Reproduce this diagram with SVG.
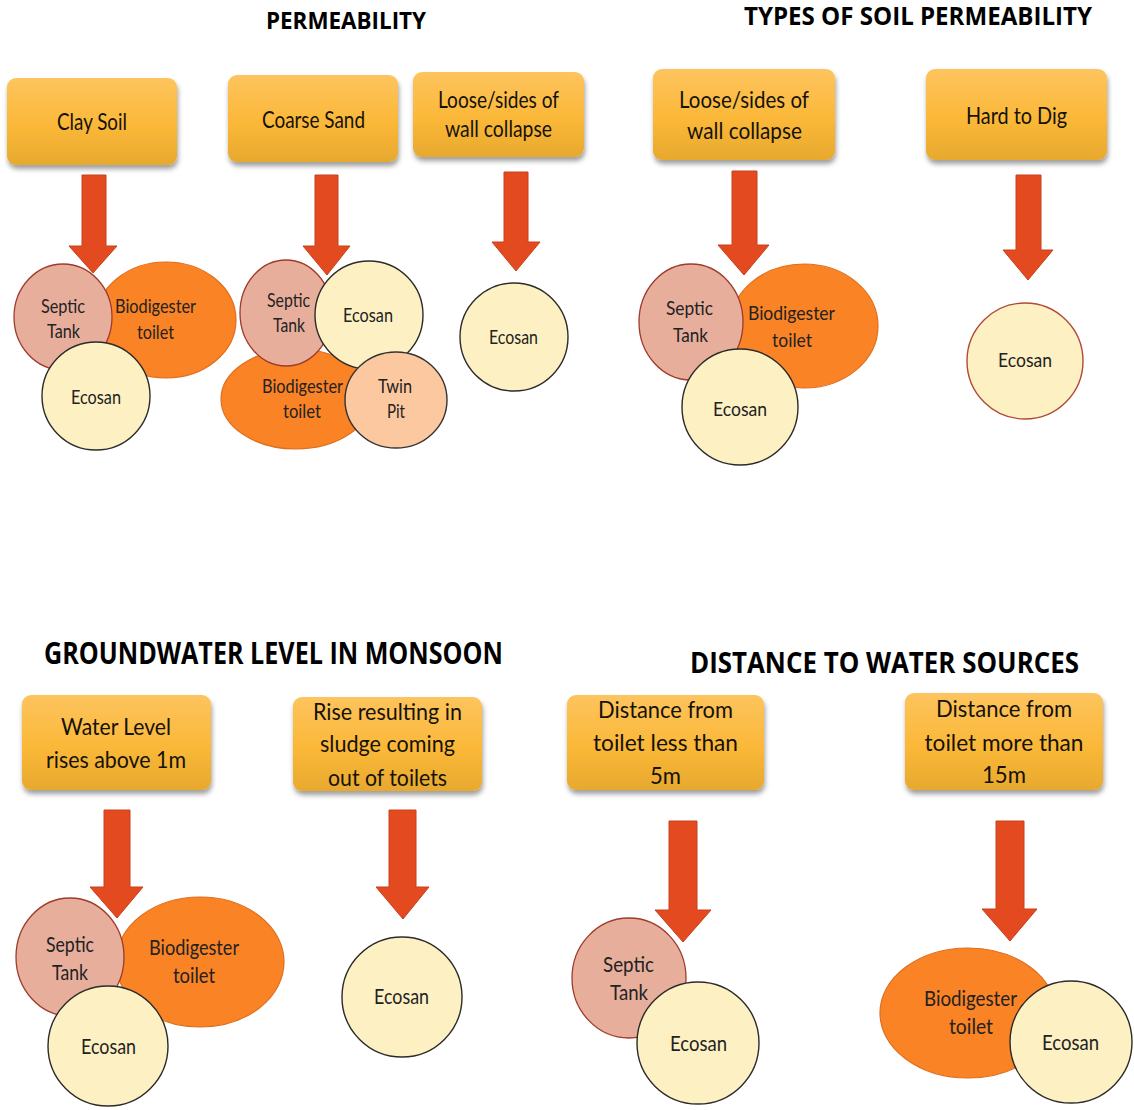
<svg xmlns="http://www.w3.org/2000/svg" width="1134" height="1110" viewBox="0 0 1134 1110">
<defs>
<linearGradient id="boxg" x1="0" y1="0" x2="0" y2="1">
<stop offset="0" stop-color="#fdc45e"/>
<stop offset="0.55" stop-color="#fbb838"/>
<stop offset="1" stop-color="#e7a92e"/>
</linearGradient>
<filter id="sh" x="-10%" y="-10%" width="125%" height="135%">
<feDropShadow dx="1" dy="4" stdDeviation="2.5" flood-color="#000" flood-opacity="0.38"/>
</filter>
</defs>
<style>
.title{font-family:"Open Sans","Liberation Sans",sans-serif;font-weight:bold;fill:#000}
.box{fill:url(#boxg);filter:url(#sh)}
.bt{font-family:Lato,"Liberation Sans",sans-serif;font-size:24px;fill:#15120a;text-anchor:middle}
.st{font-family:Lato,"Liberation Sans",sans-serif;font-size:20px;fill:#222;text-anchor:middle}
.st2{font-family:Lato,"Liberation Sans",sans-serif;font-size:22px;fill:#222;text-anchor:middle}
.septic{fill:#e8ae9c;stroke:#9e3b2c;stroke-width:1.3}
.bio{fill:#fa8325;stroke:#df6e1e;stroke-width:1.2}
.eco{fill:#fdf0c3;stroke:#2b2b2b;stroke-width:1.4}
.eco2{fill:#fdf0c3;stroke:#b04a35;stroke-width:1.4}
.twin{fill:#fcc8a0;stroke:#333;stroke-width:1.4}
.arrow{fill:#e44a20;stroke:#c8401c;stroke-width:1}
</style>
<rect width="1134" height="1110" fill="#fff"/>

<g id="titles">
<text class="title" x="266" y="29" font-size="24" textLength="160" lengthAdjust="spacingAndGlyphs">PERMEABILITY</text>
<text class="title" x="744" y="25" font-size="25" textLength="348" lengthAdjust="spacingAndGlyphs">TYPES OF SOIL PERMEABILITY</text>
<text class="title" x="44" y="664" font-size="30" textLength="459" lengthAdjust="spacingAndGlyphs">GROUNDWATER LEVEL IN MONSOON</text>
<text class="title" x="690" y="673" font-size="28" textLength="389" lengthAdjust="spacingAndGlyphs">DISTANCE TO WATER SOURCES</text>
</g>

<g id="box-clay"><rect class="box" x="7" y="78" width="170" height="87" rx="9"/>
<text class="bt" x="92" y="130" textLength="70" lengthAdjust="spacingAndGlyphs">Clay Soil</text></g>
<g id="box-coarse"><rect class="box" x="228" y="75" width="170" height="87" rx="9"/>
<text class="bt" x="313.5" y="128" textLength="103" lengthAdjust="spacingAndGlyphs">Coarse Sand</text></g>
<g id="box-loose1"><rect class="box" x="413" y="72" width="171" height="85" rx="9"/>
<text class="bt" x="498.5" y="108" textLength="121" lengthAdjust="spacingAndGlyphs">Loose/sides of</text>
<text class="bt" x="498.5" y="137" textLength="107" lengthAdjust="spacingAndGlyphs">wall collapse</text></g>
<g id="box-loose2"><rect class="box" x="653" y="69" width="182" height="91" rx="9"/>
<text class="bt" x="744" y="108" textLength="130" lengthAdjust="spacingAndGlyphs">Loose/sides of</text>
<text class="bt" x="744.5" y="139" textLength="115" lengthAdjust="spacingAndGlyphs">wall collapse</text></g>
<g id="box-hard"><rect class="box" x="926" y="69" width="181" height="91" rx="9"/>
<text class="bt" x="1016.5" y="124" textLength="101" lengthAdjust="spacingAndGlyphs">Hard to Dig</text></g>
<g id="box-water"><rect class="box" x="22" y="695" width="189" height="95" rx="9"/>
<text class="bt" x="116" y="735" textLength="110" lengthAdjust="spacingAndGlyphs">Water Level</text>
<text class="bt" x="116" y="768" textLength="140" lengthAdjust="spacingAndGlyphs">rises above 1m</text></g>
<g id="box-rise"><rect class="box" x="293" y="697" width="189" height="94" rx="9"/>
<text class="bt" x="387.5" y="720" textLength="149" lengthAdjust="spacingAndGlyphs">Rise resulting in</text>
<text class="bt" x="387.5" y="752" textLength="135" lengthAdjust="spacingAndGlyphs">sludge coming</text>
<text class="bt" x="387.5" y="786" textLength="119" lengthAdjust="spacingAndGlyphs">out of toilets</text></g>
<g id="box-dist5"><rect class="box" x="567" y="695" width="197" height="95" rx="9"/>
<text class="bt" x="665.5" y="718" textLength="135" lengthAdjust="spacingAndGlyphs">Distance from</text>
<text class="bt" x="665.5" y="751" textLength="145" lengthAdjust="spacingAndGlyphs">toilet less than</text>
<text class="bt" x="665.5" y="784" textLength="31" lengthAdjust="spacingAndGlyphs">5m</text></g>
<g id="box-dist15"><rect class="box" x="905" y="693" width="198" height="97" rx="9"/>
<text class="bt" x="1004" y="717" textLength="136" lengthAdjust="spacingAndGlyphs">Distance from</text>
<text class="bt" x="1004" y="751" textLength="159" lengthAdjust="spacingAndGlyphs">toilet more than</text>
<text class="bt" x="1004" y="783" textLength="44" lengthAdjust="spacingAndGlyphs">15m</text></g>

<g id="cluster-clay">
<ellipse class="bio" cx="166" cy="320" rx="70" ry="58"/>
<ellipse class="septic" cx="63" cy="317" rx="49" ry="53"/>
<circle class="eco" cx="96" cy="396" r="54"/>
<text class="st" x="63" y="313" textLength="44" lengthAdjust="spacingAndGlyphs">Septic</text>
<text class="st" x="63.5" y="338" textLength="33" lengthAdjust="spacingAndGlyphs">Tank</text>
<text class="st" x="155.5" y="313" textLength="81" lengthAdjust="spacingAndGlyphs">Biodigester</text>
<text class="st" x="155.5" y="339" textLength="37" lengthAdjust="spacingAndGlyphs">toilet</text>
<text class="st" x="96" y="404" textLength="50" lengthAdjust="spacingAndGlyphs">Ecosan</text>
</g>

<g id="cluster-coarse">
<ellipse class="bio" cx="296" cy="399" rx="75" ry="50"/>
<ellipse class="septic" cx="286" cy="313" rx="46" ry="53"/>
<circle class="eco" cx="369" cy="315" r="54"/>
<ellipse class="twin" cx="396" cy="400" rx="51" ry="48"/>
<text class="st" x="288.5" y="307" textLength="43" lengthAdjust="spacingAndGlyphs">Septic</text>
<text class="st" x="289" y="332" textLength="32" lengthAdjust="spacingAndGlyphs">Tank</text>
<text class="st" x="368" y="322" textLength="50" lengthAdjust="spacingAndGlyphs">Ecosan</text>
<text class="st" x="302.5" y="393" textLength="81" lengthAdjust="spacingAndGlyphs">Biodigester</text>
<text class="st" x="302" y="418" textLength="38" lengthAdjust="spacingAndGlyphs">toilet</text>
<text class="st" x="395" y="393" textLength="34" lengthAdjust="spacingAndGlyphs">Twin</text>
<text class="st" x="396" y="418" textLength="18" lengthAdjust="spacingAndGlyphs">Pit</text>
</g>

<g id="cluster-loose1">
<circle class="eco" cx="514" cy="337" r="54"/>
<text class="st" x="513.5" y="344" textLength="49" lengthAdjust="spacingAndGlyphs">Ecosan</text>
</g>

<g id="cluster-loose2">
<ellipse class="bio" cx="804" cy="326" rx="74" ry="62"/>
<ellipse class="septic" cx="691" cy="322" rx="52" ry="58"/>
<circle class="eco" cx="740" cy="407" r="58"/>
<text class="st" x="689.5" y="315" textLength="47" lengthAdjust="spacingAndGlyphs">Septic</text>
<text class="st" x="690.5" y="342" textLength="35" lengthAdjust="spacingAndGlyphs">Tank</text>
<text class="st" x="791.5" y="320" textLength="87" lengthAdjust="spacingAndGlyphs">Biodigester</text>
<text class="st" x="792" y="347" textLength="40" lengthAdjust="spacingAndGlyphs">toilet</text>
<text class="st" x="740" y="416" textLength="54" lengthAdjust="spacingAndGlyphs">Ecosan</text>
</g>

<g id="cluster-hard">
<circle class="eco2" cx="1025" cy="361" r="58"/>
<text class="st" x="1025" y="367" textLength="54" lengthAdjust="spacingAndGlyphs">Ecosan</text>
</g>

<g id="cluster-water">
<ellipse class="bio" cx="200" cy="962" rx="84" ry="65"/>
<ellipse class="septic" cx="70" cy="957" rx="54" ry="59"/>
<circle class="eco" cx="108" cy="1046" r="60"/>
<text class="st2" x="70" y="952" textLength="48" lengthAdjust="spacingAndGlyphs">Septic</text>
<text class="st2" x="70" y="980" textLength="36" lengthAdjust="spacingAndGlyphs">Tank</text>
<text class="st2" x="194" y="955" textLength="90" lengthAdjust="spacingAndGlyphs">Biodigester</text>
<text class="st2" x="194" y="983" textLength="42" lengthAdjust="spacingAndGlyphs">toilet</text>
<text class="st2" x="108.5" y="1054" textLength="55" lengthAdjust="spacingAndGlyphs">Ecosan</text>
</g>

<g id="cluster-rise">
<circle class="eco" cx="402" cy="997" r="60"/>
<text class="st2" x="401.5" y="1004" textLength="55" lengthAdjust="spacingAndGlyphs">Ecosan</text>
</g>

<g id="cluster-dist5">
<ellipse class="septic" cx="629" cy="978" rx="57" ry="60"/>
<circle class="eco" cx="698" cy="1043" r="61"/>
<text class="st2" x="628.5" y="972" textLength="51" lengthAdjust="spacingAndGlyphs">Septic</text>
<text class="st2" x="629" y="1000" textLength="38" lengthAdjust="spacingAndGlyphs">Tank</text>
<text class="st2" x="698.5" y="1051" textLength="57" lengthAdjust="spacingAndGlyphs">Ecosan</text>
</g>

<g id="cluster-dist15">
<ellipse class="bio" cx="968" cy="1013" rx="88" ry="65"/>
<circle class="eco" cx="1071" cy="1042" r="61"/>
<text class="st2" x="970.5" y="1006" textLength="93" lengthAdjust="spacingAndGlyphs">Biodigester</text>
<text class="st2" x="971" y="1034" textLength="44" lengthAdjust="spacingAndGlyphs">toilet</text>
<text class="st2" x="1070.5" y="1050" textLength="57" lengthAdjust="spacingAndGlyphs">Ecosan</text>
</g>

<g id="connectors">
<polygon class="arrow" points="82,175 106,175 106,246 117,246 93,273 69,246 82,246"/>
<polygon class="arrow" points="315,175 338,175 338,246 350,246 327,275 303,246 315,246"/>
<polygon class="arrow" points="504,172 528,172 528,242 540,242 516,271 492,242 504,242"/>
<polygon class="arrow" points="732,171 757,171 757,245 769,245 744,275 718,245 732,245"/>
<polygon class="arrow" points="1016,175 1041,175 1041,250 1053,250 1028,280 1003,250 1016,250"/>
<polygon class="arrow" points="104,810 130,810 130,887 143,887 117,918 90,887 104,887"/>
<polygon class="arrow" points="389,810 416,810 416,887 429,887 403,919 376,887 389,887"/>
<polygon class="arrow" points="669,821 697,821 697,910 711,910 683,942 655,910 669,910"/>
<polygon class="arrow" points="996,821 1024,821 1024,909 1037,909 1010,941 982,909 996,909"/>
</g>
</svg>
